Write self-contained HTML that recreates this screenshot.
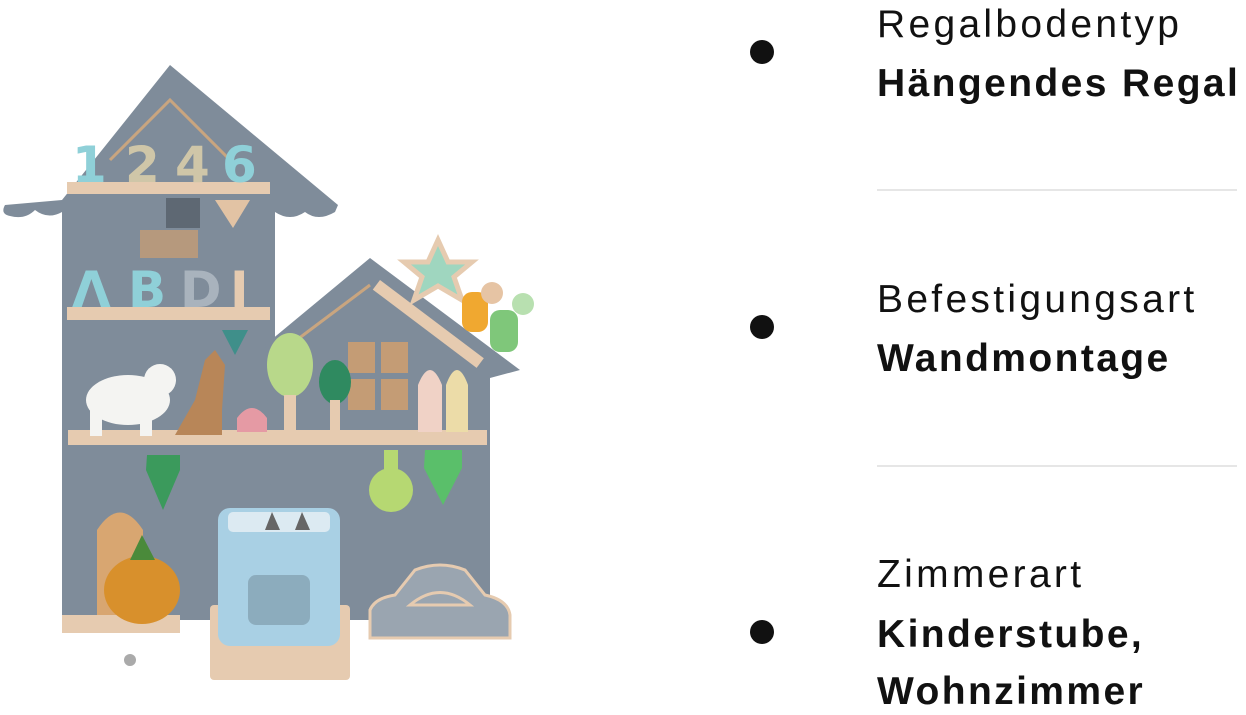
<!DOCTYPE html>
<html><head><meta charset="utf-8"><style>
body{margin:0;width:1246px;height:715px;background:#fff;position:relative;overflow:hidden;font-family:"Liberation Sans","DejaVu Sans",sans-serif;color:#111}
.t{position:absolute;left:877px;font-size:39px;line-height:1;white-space:nowrap;letter-spacing:3.3px}
.b{font-weight:bold;letter-spacing:2.4px}
.dot{position:absolute;width:24px;height:24px;border-radius:50%;background:#111;left:750px}
.hr{position:absolute;left:877px;width:360px;height:2px;background:#e6e6e6}
</style></head><body>
<svg width="620" height="715" style="position:absolute;left:0;top:0">
<path d="M62 200 L5 205 Q0 214 10 216 Q25 220 35 210 Q48 220 62 212 L62 620 L275 620 L275 212 Q290 222 305 212 Q318 222 335 212 L338 205 L170 65 Z" fill="#7f8c9a"/>
<path d="M265 345 L370 258 L520 370 L490 378 L490 620 L275 620 Z" fill="#7f8c9a"/>
<path d="M110 160 L170 100 L230 160" stroke="#c9a57f" stroke-width="3" fill="none"/>
<path d="M290 345 L370 285" stroke="#c9a57f" stroke-width="3" fill="none"/>
<rect x="67" y="182" width="203" height="12" fill="#e6cbb0"/>
<rect x="67" y="307" width="203" height="13" fill="#e6cbb0"/>
<rect x="68" y="430" width="419" height="15" fill="#e6cbb0"/>
<rect x="380" y="280" width="130" height="12" fill="#e6cbb0" transform="rotate(37 380 280)"/>
<rect x="62" y="615" width="118" height="18" fill="#e6cbb0"/>
<g font-family="DejaVu Sans" font-weight="bold" font-size="50">
<text x="72" y="182" fill="#8fd0d8">1</text><text x="125" y="182" fill="#cfc6a8">2</text><text x="175" y="182" fill="#cfc6a8">4</text><text x="222" y="182" fill="#8fd0d8">6</text>
<text x="72" y="307" fill="#8fd0d8">Λ</text><text x="128" y="307" fill="#8fd0d8">B</text><text x="180" y="307" fill="#a9b3bd">D</text><text x="230" y="307" fill="#e6cbb0">I</text>
</g>
<rect x="166" y="198" width="34" height="30" fill="#5e6873"/>
<path d="M215 200 L250 200 L233 228Z" fill="#e2c3a4"/>
<rect x="140" y="230" width="58" height="28" fill="#c49c75" opacity=".8"/>
<rect x="348" y="342" width="60" height="68" fill="#c49c75"/>
<path d="M378 342V410M348 376H408" stroke="#7f8c9a" stroke-width="6"/>
<path d="M438 240 L448 262 L472 262 L454 277 L462 300 L438 286 L414 300 L422 277 L404 262 L428 262Z" fill="#9fd6bf" stroke="#e6cbb0" stroke-width="5"/>
<rect x="462" y="292" width="26" height="40" rx="10" fill="#f0a830"/><circle cx="492" cy="293" r="11" fill="#e6c4a4"/>
<rect x="490" y="310" width="28" height="42" rx="10" fill="#7fc77a"/><circle cx="523" cy="304" r="11" fill="#b8e0b0"/>
<ellipse cx="128" cy="400" rx="42" ry="25" fill="#f4f4f2"/><circle cx="160" cy="380" r="16" fill="#f4f4f2"/>
<rect x="90" y="400" width="12" height="36" fill="#f4f4f2"/><rect x="140" y="400" width="12" height="36" fill="#f4f4f2"/>
<path d="M175 435 L195 400 L205 360 L215 350 L225 365 L222 410 L222 435Z" fill="#b88658"/>
<ellipse cx="290" cy="365" rx="23" ry="32" fill="#b8d88a"/><rect x="284" y="395" width="12" height="37" fill="#e6cbb0"/>
<ellipse cx="335" cy="382" rx="16" ry="22" fill="#2f8a60"/><rect x="330" y="400" width="10" height="32" fill="#e6cbb0"/>
<path d="M237 432 V418 Q252 398 267 418 V432Z" fill="#e59aa4"/>
<path d="M418 432 V385 Q430 355 442 385 V432Z" fill="#f0d2c6"/>
<path d="M446 432 V385 Q457 355 468 385 V432Z" fill="#ecdca8"/>
<path d="M147 455 H180 V470 L163 510 L146 470Z" fill="#3b9a5c"/>
<path d="M425 450 H462 V468 L443 505 L424 468Z" fill="#5abf6a"/>
<rect x="384" y="450" width="14" height="25" fill="#b6d872"/><circle cx="391" cy="490" r="22" fill="#b6d872"/>
<path d="M222 330 H248 L235 355Z" fill="#3f8f8a"/>
<path d="M97 615 V530 Q120 495 143 530 V615Z" fill="#d8a671"/>
<ellipse cx="142" cy="590" rx="38" ry="34" fill="#d8902c"/><path d="M130 560 L142 535 L155 560Z" fill="#4a8a3a"/>
<circle cx="130" cy="660" r="6" fill="#aaa"/>
<rect x="210" y="605" width="140" height="75" rx="4" fill="#e6cbb0"/>
<rect x="218" y="508" width="122" height="138" rx="12" fill="#a9d0e4"/>
<rect x="228" y="512" width="102" height="20" rx="5" fill="#dceaf2"/>
<path d="M265 530 L272 512 L280 530Z M295 530 L302 512 L310 530Z" fill="#666"/>
<rect x="248" y="575" width="62" height="50" rx="8" fill="#7a94a4" opacity=".6"/>
<path d="M370 638 V610 Q375 598 395 595 L415 570 Q440 560 465 570 L485 595 Q508 600 510 615 V638Z" fill="#9aa5b0" stroke="#e6cbb0" stroke-width="3"/>
<path d="M410 605 Q440 580 470 605Z" fill="none" stroke="#e6cbb0" stroke-width="3"/>
</svg>
<div class="dot" style="top:40px"></div>
<div class="dot" style="top:315px"></div>
<div class="dot" style="top:620px"></div>
<div class="hr" style="top:189px"></div>
<div class="hr" style="top:465px"></div>
<div class="t" style="top:5px">Regalbodentyp</div>
<div class="t b" style="top:64px">Hängendes Regal</div>
<div class="t" style="top:280px">Befestigungsart</div>
<div class="t b" style="top:339px">Wandmontage</div>
<div class="t" style="top:555px">Zimmerart</div>
<div class="t b" style="top:615px">Kinderstube,</div>
<div class="t b" style="top:672px">Wohnzimmer</div>
</body></html>
